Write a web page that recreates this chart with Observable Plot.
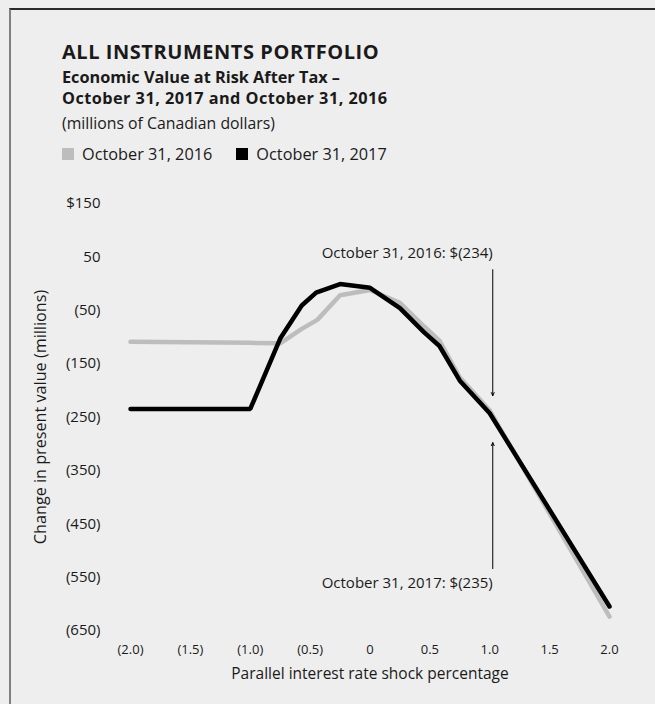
<!DOCTYPE html>
<html><head><meta charset="utf-8">
<script src="https://cdn.jsdelivr.net/npm/d3@7"></script>
<script src="https://cdn.jsdelivr.net/npm/@observablehq/plot@0.6"></script>
<style>
html,body{margin:0;padding:0;background:#eeeeee;width:655px;height:704px;overflow:hidden;font-family:"Open Sans",sans-serif;color:#1a1a1a;}
#frame{position:absolute;left:9px;top:8px;width:700px;height:720px;border-top:2px solid #2a2a2a;border-left:2px solid #808080;}
.abs{position:absolute;left:62px;white-space:nowrap;}
#title{top:42px;font-size:20px;line-height:20px;font-weight:700;letter-spacing:0.55px;}
#sub{top:67px;font-size:16.3px;line-height:21px;font-weight:700;}
#sub .l2{letter-spacing:0.45px;}
#units{top:115px;font-size:15.8px;line-height:16px;}
#legend{top:146px;font-size:16.3px;line-height:16px;display:flex;align-items:center;}
.sw{display:inline-block;width:12px;height:12px;margin-right:8px;}
.item{display:flex;align-items:center;margin-right:24px;}
#chart{position:absolute;left:0;top:185px;}
</style></head><body>
<div id="frame"></div>
<div id="title" class="abs">ALL INSTRUMENTS PORTFOLIO</div>
<div id="sub" class="abs">Economic Value at Risk After Tax –<br><span class="l2">October 31, 2017 and October 31, 2016</span></div>
<div id="units" class="abs">(millions of Canadian dollars)</div>
<div id="legend" class="abs"></div>
<div id="chart"></div>
<script>
// Series: October 31, 2016 (grey)
const shock2016 = [-2, -1, -0.75, -0.57, -0.44, -0.25, 0, 0.25, 0.45, 0.58, 0.75, 1, 2];
const value2016 = [-109, -111, -112, -85, -68, -22, -12, -36, -80, -107, -176, -238, -624];
// Series: October 31, 2017 (black)
const shock2017 = [-2, -1, -0.75, -0.57, -0.45, -0.25, 0, 0.25, 0.45, 0.58, 0.75, 1, 2];
const value2017 = [-235, -235, -103, -41, -17, -1, -8, -46, -91, -117, -182, -243, -605];

const seriesNames = ["October 31, 2016", "October 31, 2017"];
const seriesColors = ["#bdbdbd", "#000000"];

const yTicks = [150, 50, -50, -150, -250, -350, -450, -550, -650];
const xTicks = [-2, -1.5, -1, -0.5, 0, 0.5, 1, 1.5, 2];
const yLabel = "Change in present value (millions)";
const xLabel = "Parallel interest rate shock percentage";

// Annotations
const noteLabels = ["October 31, 2016: $(234)", "October 31, 2017: $(235)"];
const noteX = [1, 1];
const noteTextY = [56, -562];
const arrowFromY = [26, -534];
const arrowToY = [-210, -298];

const d2016 = shock2016.map((x, i) => ({x, y: value2016[i]}));
const d2017 = shock2017.map((x, i) => ({x, y: value2017[i]}));
const notes = noteLabels.map((t, i) => ({t, x: noteX[i], ty: noteTextY[i], y1: arrowFromY[i], y2: arrowToY[i]}));

const fmtY = v => v === 150 ? "$150" : v < 0 ? `(${-v})` : `${v}`;
const fmtX = v => v === 0 ? "0" : v < 0 ? `(${(-v).toFixed(1)})` : v.toFixed(1);

// legend
const lg = document.getElementById("legend");
seriesNames.forEach((n, i) => {
  const it = document.createElement("span");
  it.className = "item";
  it.innerHTML = `<span class="sw" style="background:${seriesColors[i]}"></span>${n}`;
  lg.appendChild(it);
});

const chart = Plot.plot({
  width: 655,
  height: 515,
  marginLeft: 130,
  marginRight: 46,
  marginTop: 18,
  marginBottom: 70,
  style: {background: "transparent", fontFamily: "Open Sans", fontSize: "14px", color: "#1a1a1a"},
  x: {domain: [-2, 2]},
  y: {domain: [-650, 150]},
  marks: [
    Plot.axisY(yTicks, {tickSize: 0, tickPadding: 30, tickFormat: fmtY, fontSize: 15, label: null}),
    Plot.axisX(xTicks, {tickSize: 0, tickPadding: 14, tickFormat: fmtX, fontSize: 13, label: null}),
    Plot.text([yLabel], {frameAnchor: "left", textAnchor: "middle", rotate: -90, dx: -90, fontSize: 16.2, fill: "#1a1a1a"}),
    Plot.text([xLabel], {frameAnchor: "bottom", dy: 48, fontSize: 15.5, fill: "#1a1a1a"}),
    Plot.line(d2016, {x: "x", y: "y", stroke: seriesColors[0], strokeWidth: 4.5, strokeLinecap: "round", strokeLinejoin: "round"}),
    Plot.line(d2017, {x: "x", y: "y", stroke: seriesColors[1], strokeWidth: 4.5, strokeLinecap: "round", strokeLinejoin: "miter"}),
    Plot.arrow(notes, {x1: "x", x2: "x", y1: "y1", y2: "y2", dx: 3, stroke: "#000", strokeWidth: 1, headLength: 5, headAngle: 50}),
    Plot.text(notes, {x: "x", y: "ty", text: "t", textAnchor: "end", dx: 3, fontSize: 15, fill: "#1a1a1a"})
  ]
});
document.getElementById("chart").appendChild(chart);
</script>
</body></html>
